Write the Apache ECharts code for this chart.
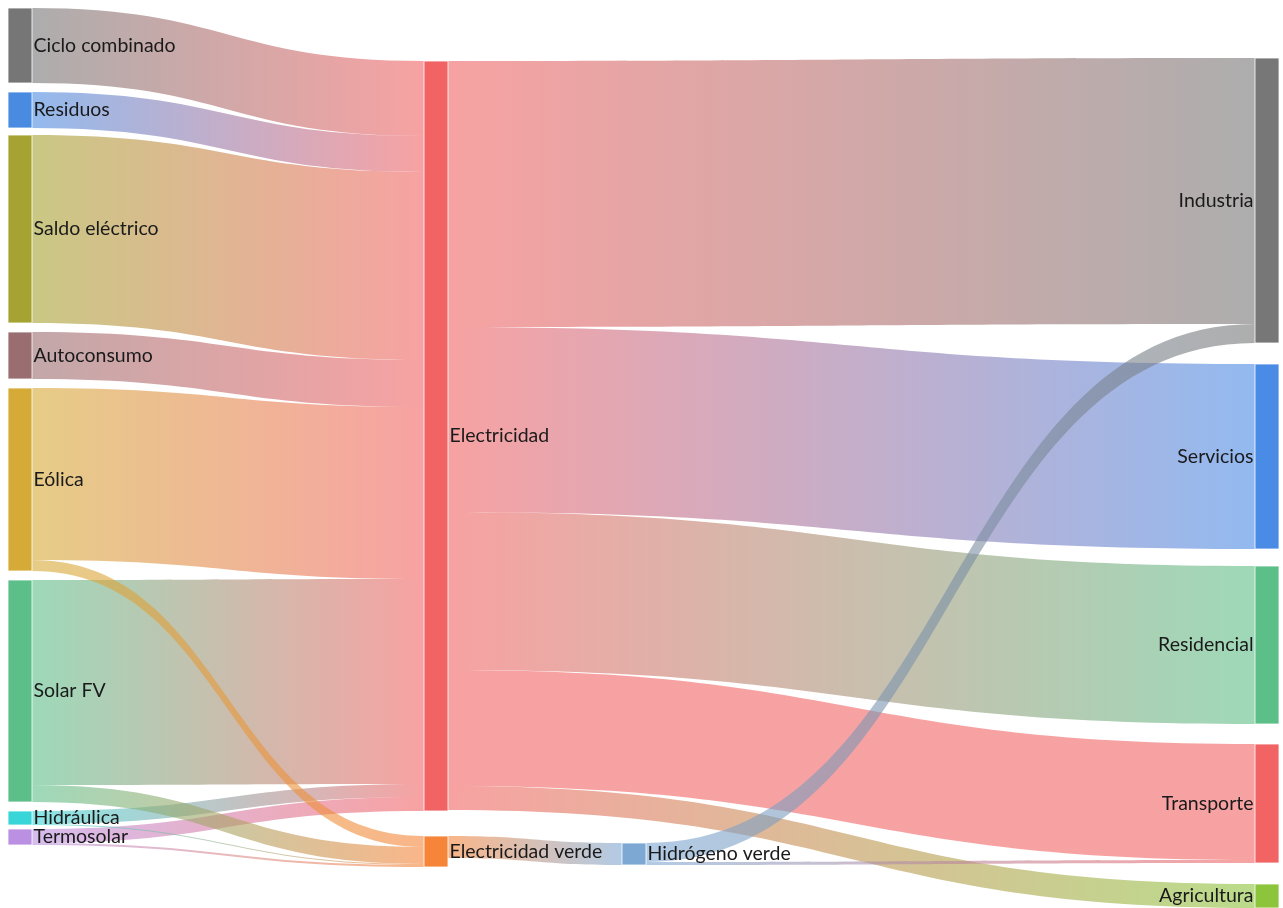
<!DOCTYPE html>
<html lang="es">
<head>
    <meta charset="UTF-8">
    <title>Flujo de electricidad</title>
    <script src="https://cdn.jsdelivr.net/npm/echarts@6/dist/echarts.min.js"></script>
    <style>
        html, body { margin: 0; padding: 0; background: #ffffff; }
        #chart { width: 1283px; height: 908px; }
    </style>
</head>
<body>
    <div id="chart"></div>
    <script>
        // nodos (orden = orden vertical en cada columna)
        const nodeNames = [
            'Ciclo combinado', 'Residuos', 'Saldo eléctrico', 'Autoconsumo', 'Eólica',
            'Solar FV', 'Hidráulica', 'Termosolar',
            'Electricidad', 'Electricidad verde', 'Hidrógeno verde',
            'Industria', 'Servicios', 'Residencial', 'Transporte', 'Agricultura'
        ];
        const nodeLayer = [0, 0, 0, 0, 0, 0, 0, 0, 1, 1, 2, 3, 3, 3, 3, 3];

        // flujos
        const linkSources = [
            'Ciclo combinado', 'Residuos', 'Saldo eléctrico', 'Autoconsumo', 'Eólica', 'Solar FV', 'Hidráulica', 'Termosolar',
            'Eólica', 'Solar FV', 'Hidráulica', 'Termosolar',
            'Electricidad', 'Electricidad', 'Electricidad', 'Electricidad', 'Electricidad',
            'Electricidad verde', 'Hidrógeno verde', 'Hidrógeno verde'
        ];
        const linkTargets = [
            'Electricidad', 'Electricidad', 'Electricidad', 'Electricidad', 'Electricidad', 'Electricidad', 'Electricidad', 'Electricidad',
            'Electricidad verde', 'Electricidad verde', 'Electricidad verde', 'Electricidad verde',
            'Industria', 'Servicios', 'Residencial', 'Transporte', 'Agricultura',
            'Hidrógeno verde', 'Industria', 'Transporte'
        ];
        const linkValues = [
            75, 36, 188, 47, 172, 205, 13, 14,
            11, 17, 1, 2,
            266, 185, 158, 116, 24,
            22, 19, 3
        ];

        // estilo y posición de cada nodo (px en la página)
        const nodeColors = [
            '#767676', '#4a8be2', '#a6a332', '#9a6d70', '#d6aa36', '#5cbf8a', '#38d6d8', '#bb90e2',
            '#f26464', '#f6853a', '#7ea8d4',
            '#777777', '#4a8be6', '#5dbf88', '#f26464', '#8cc43c'
        ];
        const nodeLeft = [8, 8, 8, 8, 8, 8, 8, 8, 424, 424, 622, 1255, 1255, 1255, 1255, 1255];
        const nodeTop = [8, 92, 135, 332, 388, 580, 811, 829, 61, 836, 843, 58, 364, 566, 744, 884];

        const plotLeft = 8;
        const plotTop = 8;
        const plotWidth = 1270;
        const plotHeight = 900;

        const nodes = nodeNames.map(function (name, i) {
            return {
                name: name,
                depth: nodeLayer[i],
                localX: (nodeLeft[i] - plotLeft) / plotWidth,
                localY: (nodeTop[i] - plotTop) / plotHeight,
                itemStyle: { color: nodeColors[i] },
                label: { position: nodeLayer[i] === 3 ? 'left' : 'right' }
            };
        });
        const links = linkSources.map(function (s, i) {
            return { source: s, target: linkTargets[i], value: linkValues[i] };
        });

        const chart = echarts.init(document.getElementById('chart'));
        chart.setOption({
            backgroundColor: '#ffffff',
            animation: false,
            series: [{
                type: 'sankey',
                left: plotLeft,
                top: plotTop,
                width: plotWidth,
                height: plotHeight,
                nodeWidth: 24,
                nodeGap: 17,
                layoutIterations: 0,
                nodeAlign: 'justify',
                draggable: false,
                emphasis: { disabled: true },
                data: nodes,
                links: links,
                itemStyle: { borderColor: 'rgba(255,255,255,0.8)', borderWidth: 1 },
                lineStyle: { color: 'gradient', opacity: 0.6, curveness: 0.5 },
                label: {
                    color: '#1a1a1a',
                    fontFamily: 'Lato',
                    fontSize: 19.5,
                    distance: 1
                }
            }]
        });
    </script>
</body>
</html>
